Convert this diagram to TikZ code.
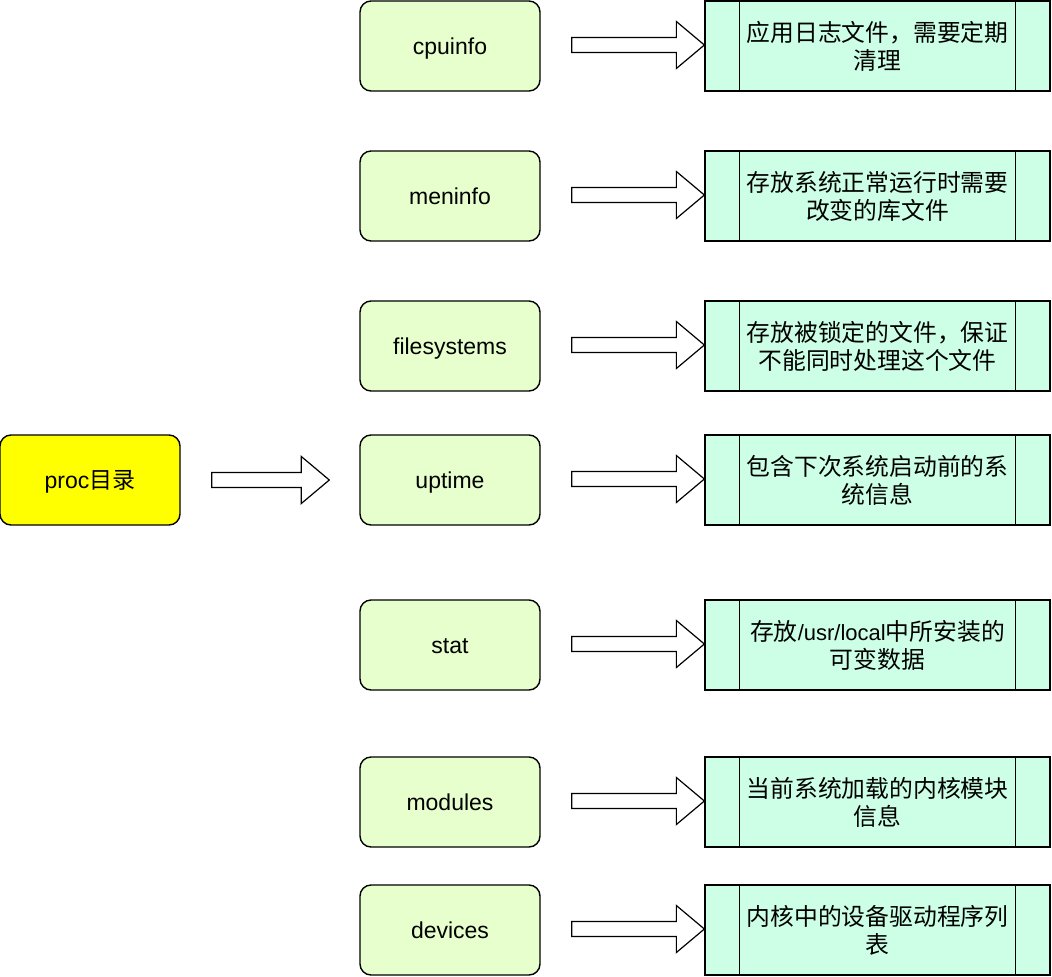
\documentclass[tikz,border=0pt]{standalone}
\usepackage{fontspec}
\setmainfont{Liberation Sans}
\newfontfamily\cjk{Noto Sans CJK SC}
\usetikzlibrary{calc}
\definecolor{procfill}{HTML}{FFFF00}
\definecolor{itemfill}{HTML}{E6FFCC}
\definecolor{descfill}{HTML}{CCFFE6}
\tikzset{
  roundbox/.style={draw,line width=1.4pt,rounded corners=11pt,minimum width=180pt,minimum height=90pt,inner sep=0pt,
    text height=19pt,text depth=1.5pt,font=\fontsize{23}{28}\selectfont},
  procbox/.style={roundbox,fill=procfill},
  itembox/.style={roundbox,fill=itemfill},
  descbox/.style={draw,line width=1.3pt,fill=descfill,minimum width=345pt,minimum height=90pt,inner sep=0pt,align=center,font=\fontsize{23.8}{28}\selectfont\cjk},
  barrow/.style={draw,line width=1.2pt,fill=white,line join=miter},
  innerline/.style={draw,line width=1.3pt}
}
\newcommand\blockarrow[2]{%
  \path[barrow] let \p1=(#1), \p2=(#2) in
    (\x1,\y1+7.5pt) -- (\x2-28pt,\y1+7.5pt) -- (\x2-28pt,\y1+23.5pt) -- (\x2,\y1)
    -- (\x2-28pt,\y1-23.5pt) -- (\x2-28pt,\y1-7.5pt) -- (\x1,\y1-7.5pt) -- cycle;}
\newcommand\descinner[1]{%
  \draw[innerline] ($(#1.north west)+(35,0)$) -- ($(#1.south west)+(35,0)$);
  \draw[innerline] ($(#1.north east)+(-35,0)$) -- ($(#1.south east)+(-35,0)$);}
\begin{document}
\begin{tikzpicture}[x=1pt,y=-1pt]
\useasboundingbox (0,0) rectangle (1052,977);
% left
\node[procbox] (proc) at (90,480) {proc{\cjk\fontsize{23}{28}\selectfont 目录}};
% middle column
\node[itembox] (cpu)  at (450,46)  {cpuinfo};
\node[itembox] (mem)  at (450,196) {meninfo};
\node[itembox] (fs)   at (450,346) {filesystems};
\node[itembox] (up)   at (450,480) {uptime};
\node[itembox] (stat) at (450,645) {stat};
\node[itembox] (mod)  at (450,802) {modules};
\node[itembox] (dev)  at (450,930) {devices};
% right column
\node[descbox] (d1) at (877.5,46)  {应用日志文件，需要定期\\清理};
\node[descbox] (d2) at (877.5,196) {存放系统正常运行时需要\\改变的库文件};
\node[descbox] (d3) at (877.5,346) {存放被锁定的文件，保证\\不能同时处理这个文件};
\node[descbox] (d4) at (877.5,480) {包含下次系统启动前的系\\统信息};
\node[descbox] (d5) at (877.5,645) {存放{\rmfamily\fontsize{22}{28}\selectfont /usr/local}中所安装的\\可变数据};
\node[descbox] (d6) at (877.5,802) {当前系统加载的内核模块\\信息};
\node[descbox] (d7) at (877.5,930) {内核中的设备驱动程序列\\表};
\foreach \d in {d1,d2,d3,d4,d5,d6,d7} {\descinner{\d}}
% arrows
\coordinate (pa) at ($(proc.east)+(31,0)$);
\coordinate (pb) at ($(up.west)+(-30,0)$);
\blockarrow{pa}{pb}
\foreach \m/\d in {cpu/d1,mem/d2,fs/d3,up/d4,stat/d5,mod/d6,dev/d7} {
  \coordinate (s-\m) at ($(\m.east)+(31,-1)$);
  \blockarrow{s-\m}{\d.west}
}
\end{tikzpicture}
\end{document}
